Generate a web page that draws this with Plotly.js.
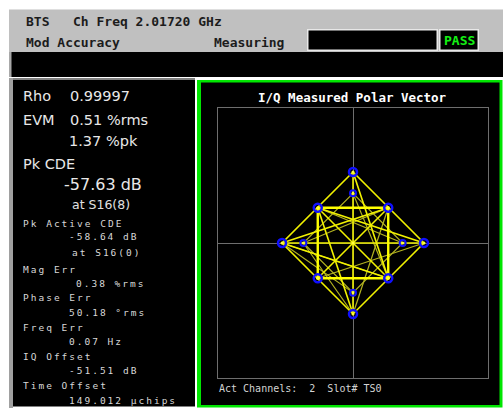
<!DOCTYPE html>
<html><head><meta charset="utf-8">
<script src="https://cdn.plot.ly/plotly-3.0.1.min.js"></script>
<style>html,body{margin:0;padding:0;background:#fff;}</style>
</head><body>
<div id="chart" style="width:503px;height:411px;"></div>
<script>
// ---- data (I/Q polar vector, normalized units) ----
// transitions drawn bright (I, Q; null separates segments)
const brightI = [0, -1.43, 0, 1.43, 0, null, 0, 0, null, -1.43, 1.43, null, -0.71, 0.71, null, 0.71, -0.71, null, -1.43, 0.71, null, -1.43, 0.71, null, 0, 0.71, null, -0.71, 0, null, -0.71, 1.43];
const brightQ = [1.43, 0, -1.43, 0, 1.43, null, 1.43, -1.43, null, 0, 0, null, 0.71, -0.71, null, 0.71, -0.71, null, 0, 0.71, null, 0, -0.71, null, 1.43, -0.71, null, 0.71, -1.43, null, 0.71, 0];
// square of chip states
const squareI = [-0.71, 0.71, 0.71, -0.71, -0.71];
const squareQ = [0.71, 0.71, -0.71, -0.71, 0.71];
// fainter transitions
const dimI = [0, -1, 0, 1, 0, null, -1, 0.71, null, -0.71, 1, null, -0.71, 1.43, null, -1, 0, null, 0, 0.71, null, 0.71, 0, null, -1.43, 0, null, -1.43, 0.71];
const dimQ = [1, 0, -1, 0, 1, null, 0, 0.71, null, 0.71, 0, null, -0.71, 0, null, 0, -1.43, null, 1, -0.71, null, 0.71, -1.43, null, 0, -1, null, 0, -0.71];
// symbol decision points
const outerI = [0, 1.43, 0, -1.43, -0.71, 0.71, 0.71, -0.71];
const outerQ = [1.43, 0, -1.43, 0, 0.71, 0.71, -0.71, -0.71];
const innerI = [0, 1, 0, -1];
const innerQ = [1, 0, -1, 0];
const centerI = [0];
const centerQ = [0];

const topLine1a = "BTS";
const topLine1b = "Ch Freq 2.01720 GHz";
const topLine2 = "Mod Accuracy";
const statusText = "Measuring";
const passText = "PASS";
const bigLabels = [["Rho","0.99997"],["EVM","0.51 %rms"],["","1.37 %pk"],["Pk CDE",""]];
const pkCde = "-57.63 dB";
const pkCdeAt = "at S16(8)";
const smallLabels = ["Pk Active CDE","Mag Err","Phase Err","Freq Err","IQ Offset","Time Offset"];
const smallValues = ["-58.64 dB","0.38 %rms","50.18 °rms","0.07 Hz","-51.51 dB","149.012 µchips"];
const activeAt = "at S16(0)";
const plotTitle = "I/Q Measured Polar Vector";
const footer = "Act Channels:\u00a0\u00a02\u00a0\u00a0Slot# TS0";

// ---- layout helpers ----
const W = 503, H = 411;
const X = p => p / W;
const Y = p => 1 - p / H;
function rect(x0, y0, x1, y1, fill) {
  return {type:'rect', xref:'paper', yref:'paper', x0:X(x0), x1:X(x1), y0:Y(y1), y1:Y(y0),
          fillcolor:fill, line:{width:0}, layer:'below'};
}
function ann(x, y, text, size, color, family, xanchor) {
  return {xref:'paper', yref:'paper', x:X(x), y:Y(y), text:text, showarrow:false,
          xanchor:xanchor||'left', yanchor:'middle', align:'left',
          font:{size:size, color:color, family:family}};
}
const MONO = '"DejaVu Sans Mono", monospace';
const SANS = '"DejaVu Sans", sans-serif';

const shapes = [
  rect(9, 9.5, 503, 52, '#c0c0c0'),
  rect(307, 29, 438, 51, '#e8e8e8'),
  rect(308.5, 30.5, 436.5, 49.5, '#000000'),
  rect(439, 29, 479, 51, '#e8e8e8'),
  rect(440.5, 30.5, 477.5, 49.5, '#000000'),
  rect(9, 52, 503, 77, '#000000'),
  rect(9, 52, 11.5, 77, '#a8a8a8'),
  rect(9, 78, 13, 408, '#a0a0a0'),
  rect(13, 78, 195, 80, '#808080'),
  rect(13, 80, 195, 406.5, '#000000'),
  rect(197, 80, 502.5, 407.5, '#00e600'),
  rect(201, 82.5, 499.5, 405, '#000000')
];

const annotations = [
  ann(24, 21.5, '<b>' + topLine1a + '</b>', 13, '#1c1c1c', MONO),
  ann(71, 21.5, '<b>' + topLine1b + '</b>', 13, '#1c1c1c', MONO),
  ann(24, 42.5, '<b>' + topLine2 + '</b>', 13, '#1c1c1c', MONO),
  ann(212, 42.5, '<b>' + statusText + '</b>', 13, '#1c1c1c', MONO),
  ann(459, 40.5, '<b>' + passText + '</b>', 13, '#14f014', MONO, 'center'),
  ann(21, 96, bigLabels[0][0], 14.5, '#e8e8e8', SANS),
  ann(68, 96, bigLabels[0][1], 14.5, '#e8e8e8', SANS),
  ann(21, 120.5, bigLabels[1][0], 14.5, '#e8e8e8', SANS),
  ann(68, 120.5, bigLabels[1][1], 14.5, '#e8e8e8', SANS),
  ann(67, 140.5, bigLabels[2][1], 14.5, '#e8e8e8', SANS),
  ann(21, 164, bigLabels[3][0], 14.5, '#e8e8e8', SANS),
  ann(62, 184, pkCde, 16, '#e8e8e8', SANS),
  ann(70, 204, pkCdeAt, 12.5, '#e0e0e0', SANS),
  ann(352, 97, '<b>' + plotTitle + '</b>', 12.5, '#ffffff', MONO, 'center'),
  ann(217, 388, footer, 10, '#d4d4d4', MONO)
];
const smallY = [[223, 237], [269, 283], [297.5, 312], [327, 341.5], [356, 370.5], [385, 400]];
const smallX = [67, 74, 67, 67, 67, 67];
for (let i = 0; i < smallLabels.length; i++) {
  annotations.push(ann(21, smallY[i][0], smallLabels[i], 9.5, '#d8d8d8', MONO));
  annotations.push(ann(smallX[i], smallY[i][1], smallValues[i], 9.5, '#d8d8d8', MONO));
}
annotations.push(ann(70, 252.5, activeAt, 9.5, '#d8d8d8', MONO));

const traces = [
  {x: dimI, y: dimQ, mode:'lines', line:{color:'#b4b420', width:1.2}, connectgaps:false},
  {x: brightI, y: brightQ, mode:'lines', line:{color:'#f2f200', width:1.6}, connectgaps:false},
  {x: squareI, y: squareQ, mode:'lines', line:{color:'#ffff00', width:2.4}},
  {x: outerI, y: outerQ, mode:'markers', marker:{symbol:'circle-open', size:8, color:'#1010ff', line:{width:2.5, color:'#1010ff'}}},
  {x: innerI, y: innerQ, mode:'markers', marker:{symbol:'circle-open', size:6, color:'#1010ff', line:{width:2, color:'#1010ff'}}},
  {x: outerI.concat(innerI, centerI), y: outerQ.concat(innerQ, centerQ), mode:'markers', marker:{symbol:'circle', size:3, color:'#ffff40', line:{width:0}}}
];

const R = 2.72;
const axisCommon = {range:[-R, R], showgrid:false, showticklabels:false, ticks:'',
  zeroline:true, zerolinecolor:'#6e6e6e', zerolinewidth:1,
  showline:true, mirror:true, linecolor:'#6e6e6e', linewidth:1, fixedrange:true};

const layout = {
  width: W, height: H, margin:{l:0, r:0, t:0, b:0},
  paper_bgcolor:'#ffffff', plot_bgcolor:'#000000', showlegend:false, hovermode:false,
  xaxis: Object.assign({domain:[X(218), X(488)]}, axisCommon),
  yaxis: Object.assign({domain:[Y(378), Y(108)]}, axisCommon),
  shapes: shapes, annotations: annotations
};

Plotly.newPlot('chart', traces, layout, {staticPlot:true, displayModeBar:false}).then(() => {
  document.querySelectorAll('.annotation-text').forEach(el => {
    const fs = parseFloat(el.style.fontSize);
    if (fs && fs < 10) el.style.letterSpacing = '2px';
  });
});
</script>
</body></html>
